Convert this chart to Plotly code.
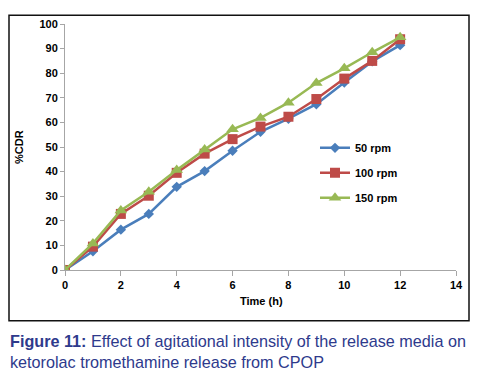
import plotly.graph_objects as go

time_h = [0, 1, 2, 3, 4, 5, 6, 7, 8, 9, 10, 11, 12]
rpm50 = [0, 7.6, 16.4, 22.8, 33.8, 40.2, 48.5, 56.2, 61.5, 67.4, 76.2, 84.8, 91.4]
rpm100 = [0, 9.5, 22.8, 30.2, 39.5, 47.3, 53.2, 58.3, 62.3, 69.5, 77.8, 85.0, 93.8]
rpm150 = [0, 10.8, 24.2, 31.8, 40.6, 49.0, 57.2, 61.8, 68.0, 76.0, 82.0, 88.5, 94.6]
series_names = ["50 rpm", "100 rpm", "150 rpm"]
x_ticks = [0, 2, 4, 6, 8, 10, 12, 14]
y_ticks = [0, 10, 20, 30, 40, 50, 60, 70, 80, 90, 100]

colors = ["#4a7ebb", "#be4b48", "#98b954"]
symbols = ["diamond", "square", "triangle-up"]
sizes = [8, 10, 11]

# the page body has an 8px margin; lay out in page pixels and shift
OFF = 8
W, H = 478, 385
PL, PT, PW, PH = 65, 18, 391, 252   # plot area in page pixels
L, T = PL - OFF, PT - OFF
R = W - L - PW
B = H - T - PH

def px(x):
    return (x - OFF - L) / PW

def py(y):
    return (T + PH - (y - OFF)) / PH

fig = go.Figure()
for i, (name, vals) in enumerate(zip(series_names, [rpm50, rpm100, rpm150])):
    fig.add_trace(go.Scatter(
        x=time_h, y=vals, name=name, mode="lines+markers",
        line=dict(color=colors[i], width=2.5),
        marker=dict(symbol=symbols[i], size=sizes[i], color=colors[i]),
        legendgroup=name,
    ))

fig.update_layout(
    width=W, height=H,
    margin=dict(l=L, r=R, t=T, b=B),
    paper_bgcolor="white", plot_bgcolor="white",
    font=dict(family="Liberation Sans, Arial, sans-serif", size=11, color="#000000"),
    showlegend=True,
    legend=dict(x=px(315), y=py(130), xanchor="left", yanchor="top",
                bgcolor="rgba(0,0,0,0)", tracegroupgap=6,
                font=dict(size=11, weight="bold")),
    xaxis=dict(range=[0, 14], tickvals=x_ticks, showgrid=False, zeroline=False,
               showline=True, linecolor="#a6a6a6", linewidth=1,
               ticks="outside", ticklen=5, tickcolor="#a6a6a6",
               tickfont=dict(size=11, weight="bold")),
    yaxis=dict(range=[0, 100], tickvals=y_ticks, showgrid=False, zeroline=False,
               showline=True, linecolor="#a6a6a6", linewidth=1,
               ticks="outside", ticklen=4, tickcolor="#a6a6a6",
               tickfont=dict(size=11, weight="bold")),
)

# chart frame
fig.add_shape(type="rect", xref="paper", yref="paper", layer="above",
              x0=px(9), x1=px(469), y0=py(322), y1=py(9),
              line=dict(color="#111111", width=1.5), fillcolor="rgba(0,0,0,0)")

fig.add_annotation(text="%CDR", xref="paper", yref="paper", x=px(19), y=py(144),
                   xanchor="center", yanchor="middle",
                   showarrow=False, textangle=-90,
                   font=dict(size=11, weight="bold"))
fig.add_annotation(text="Time (h)", xref="paper", yref="paper", x=px(261), y=py(302),
                   xanchor="center", yanchor="middle",
                   showarrow=False,
                   font=dict(size=11, weight="bold"))

fig.add_annotation(
    text="<b>Figure 11:</b> Effect of agitational intensity of the release media on<br>ketorolac tromethamine release from CPOP",
    xref="paper", yref="paper", x=px(8), y=py(331), xanchor="left", yanchor="top",
    align="left", showarrow=False,
    font=dict(size=16.2, color="#2e3a8c"))

fig.write_html("out.html", config={"displayModeBar": False})
